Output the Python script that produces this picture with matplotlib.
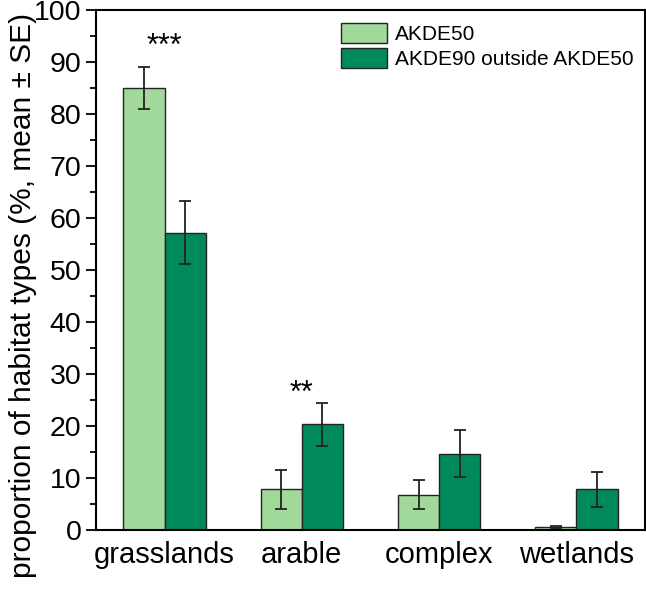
import matplotlib
matplotlib.use('Agg')
import matplotlib.pyplot as plt
from matplotlib.ticker import MultipleLocator
import numpy as np

plt.rcParams['font.family'] = ['Liberation Sans', 'DejaVu Sans']

# values
habitats = ['grasslands', 'arable', 'complex', 'wetlands']
akde50 = [85.0, 7.8, 6.8, 0.5]
akde50_se = [4.1, 3.7, 2.8, 0.3]
akde90_out = [57.2, 20.3, 14.7, 7.8]
akde90_out_se = [6.1, 4.2, 4.5, 3.3]
series_names = ['AKDE50', 'AKDE90 outside AKDE50']
stars = {0: '***', 1: '**'}
star_y = {0: 91.3, 1: 24.6}

light = '#a1d99b'
dark = '#008a5c'

fig = plt.figure(figsize=(6.46, 5.97), dpi=100)
ax = fig.add_axes([96/646, 1 - 530/597, 549/646, 520/597])

x = np.arange(len(habitats))
w = 0.30
err_kw = dict(ecolor='#222222', elinewidth=1.3, capthick=1.3)
ax.bar(x - w/2, akde50, w, yerr=akde50_se, capsize=4.5, color=light,
       edgecolor='#222222', linewidth=1.0, label=series_names[0], error_kw=err_kw)
ax.bar(x + w/2, akde90_out, w, yerr=akde90_out_se, capsize=4.5, color=dark,
       edgecolor='#222222', linewidth=1.0, label=series_names[1], error_kw=err_kw)

for i, s in stars.items():
    ax.text(x[i], star_y[i], s, ha='center', va='baseline', fontsize=22)

ax.set_xlim(-0.5, 3.5)
ax.set_ylim(0, 100)
ax.set_xticks(x)
ax.set_xticklabels(habitats, fontsize=21)
ax.yaxis.set_major_locator(MultipleLocator(10))
ax.yaxis.set_minor_locator(MultipleLocator(5))
ax.tick_params(axis='y', which='major', direction='out', length=7.5, width=1.3,
               labelsize=20.5, pad=3)
ax.tick_params(axis='y', which='minor', direction='out', length=4, width=1.3)
ax.tick_params(axis='x', length=0, pad=8)
for sp in ax.spines.values():
    sp.set_linewidth(1.5)
ax.set_ylabel('proportion of habitat types (%, mean \u00b1 SE)', fontsize=21.5)
ax.yaxis.set_label_coords(-0.107, 0.452)

ax.legend(loc='upper left', bbox_to_anchor=(0.446, 0.975), frameon=False,
          fontsize=15, handlelength=2.2, handleheight=1.1, labelspacing=0.2,
          handletextpad=0.4, borderpad=0, borderaxespad=0)

fig.savefig('out.png', dpi=100)
